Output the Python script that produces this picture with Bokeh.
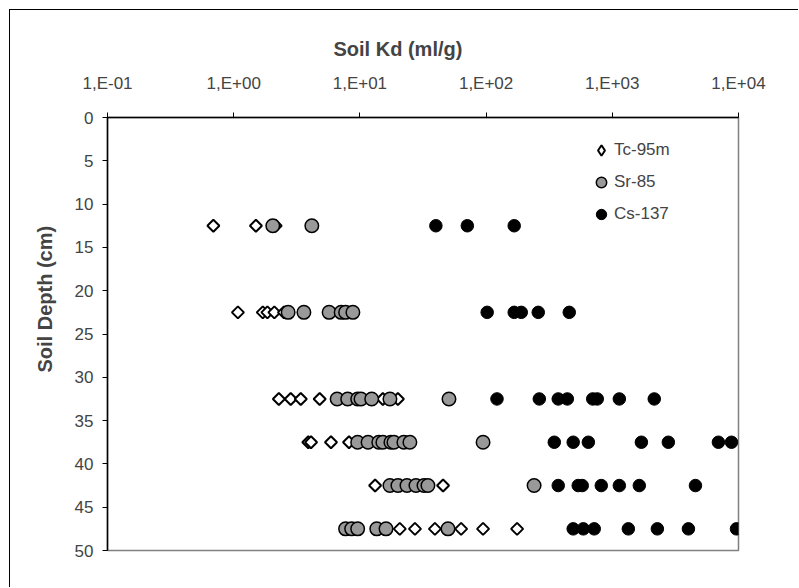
import math
from bokeh.plotting import figure
from bokeh.models import Range1d, FixedTicker, Legend, LegendItem, CustomJSTickFormatter, Title
from bokeh.embed import file_html
from bokeh.resources import INLINE

# ---- data ----
kd_ticks = [0.1, 1, 10, 100, 1000, 10000]
kd_tick_labels = ["1,E-01", "1,E+00", "1,E+01", "1,E+02", "1,E+03", "1,E+04"]
depth_ticks = [0, 5, 10, 15, 20, 25, 30, 35, 40, 45, 50]

tc_kd = [0.69, 1.5, 2.15,
         1.08, 1.7, 1.85, 2.1, 2.5,
         2.28, 2.83, 3.4, 4.8, 15.2, 20.0,
         3.9, 4.1, 5.9, 8.2,
         13.2, 21.0, 45.6,
         20.7, 27.3, 39.3, 63.4, 94.6, 176.0]
tc_depth = [12.5, 12.5, 12.5,
            22.5, 22.5, 22.5, 22.5, 22.5,
            32.5, 32.5, 32.5, 32.5, 32.5, 32.5,
            37.5, 37.5, 37.5, 37.5,
            42.5, 42.5, 42.5,
            47.5, 47.5, 47.5, 47.5, 47.5, 47.5]

sr_kd = [2.04, 4.16,
         2.7, 3.6, 5.7, 7.1, 7.7, 8.8,
         6.6, 8.0, 9.6, 10.2, 12.4, 17.3, 50.8,
         9.6, 11.6, 14.1, 15.2, 17.6, 18.6, 22.3, 24.9, 94.6,
         17.3, 20.0, 23.6, 27.8, 32.2, 34.6, 240.0,
         7.7, 8.6, 9.6, 13.6, 16.1, 49.9]
sr_depth = [12.5, 12.5,
            22.5, 22.5, 22.5, 22.5, 22.5, 22.5,
            32.5, 32.5, 32.5, 32.5, 32.5, 32.5, 32.5,
            37.5, 37.5, 37.5, 37.5, 37.5, 37.5, 37.5, 37.5, 37.5,
            42.5, 42.5, 42.5, 42.5, 42.5, 42.5, 42.5,
            47.5, 47.5, 47.5, 47.5, 47.5, 47.5]

cs_kd = [40.0, 71.0, 167.0,
         102.0, 167.0, 190.0, 259.0, 456.0,
         122.0, 264.0, 373.0, 440.0, 700.0, 760.0, 1137.0, 2150.0,
         347.0, 490.0, 646.0, 1700.0, 2780.0, 6930.0, 8800.0,
         373.0, 537.0, 578.0, 818.0, 1137.0, 1637.0, 4560.0,
         490.0, 589.0, 719.0, 1340.0, 2275.0, 4010.0, 9640.0]
cs_depth = [12.5, 12.5, 12.5,
            22.5, 22.5, 22.5, 22.5, 22.5,
            32.5, 32.5, 32.5, 32.5, 32.5, 32.5, 32.5, 32.5,
            37.5, 37.5, 37.5, 37.5, 37.5, 37.5, 37.5,
            42.5, 42.5, 42.5, 42.5, 42.5, 42.5, 42.5,
            47.5, 47.5, 47.5, 47.5, 47.5, 47.5, 47.5]

FONT = "Liberation Sans"

p = figure(width=789, height=578, title=None,
           x_axis_type="log", x_axis_location="above",
           x_range=Range1d(0.1, 10000), y_range=Range1d(50, 0),
           output_backend="svg", toolbar_location=None,
           min_border_left=97, min_border_top=107,
           min_border_right=61, min_border_bottom=38)
p.styles = {"margin-left": "9px", "margin-top": "9px",
            "border-left": "1px solid black", "border-top": "1px solid black"}

p.background_fill_color = "white"
p.border_fill_color = "white"
p.outline_line_color = "#808080"
p.outline_line_width = 1.5
p.xgrid.visible = False
p.ygrid.visible = False

xa = p.xaxis[0]
xa.ticker = FixedTicker(ticks=kd_ticks)
xa.formatter = CustomJSTickFormatter(args=dict(kd_vals=kd_ticks, kd_labels=kd_tick_labels), code="""
let best = 0, bd = Infinity;
for (let i = 0; i < kd_vals.length; i++) {
  const d = Math.abs(Math.log10(kd_vals[i]) - Math.log10(tick));
  if (d < bd) { bd = d; best = i; }
}
return kd_labels[best];
""")
xa.major_label_text_font = FONT
xa.major_label_text_font_size = "17px"
xa.major_label_standoff = 20
xa.major_tick_out = 5
xa.major_tick_in = 0
xa.minor_tick_line_color = None
xa.axis_line_color = "black"
xa.axis_line_width = 1.5
xa.major_tick_line_color = "black"

ya = p.yaxis[0]
ya.ticker = FixedTicker(ticks=depth_ticks)
ya.major_label_text_font = FONT
ya.major_label_text_font_size = "17px"
ya.major_label_standoff = 9
ya.major_tick_out = 5
ya.major_tick_in = 0
ya.minor_tick_line_color = None
ya.axis_line_color = "black"
ya.axis_line_width = 1.5
ya.major_tick_line_color = "black"

x_title = Title(text="Soil Kd (ml/g)", align="left", offset=226, standoff=21,
                text_font=FONT, text_font_style="bold", text_font_size="20px")
p.add_layout(x_title, "above")
y_title = Title(text="Soil Depth (cm)", align="left", offset=178, standoff=31,
                text_font=FONT, text_font_style="bold", text_font_size="20px")
p.add_layout(y_title, "left")

tc = p.scatter(tc_kd, tc_depth, marker="square", angle=math.pi / 4, size=8.5,
               fill_color="white", line_color="black", line_width=2)
sr = p.scatter(sr_kd, sr_depth, marker="circle", size=13.5,
               fill_color="#999999", line_color="black", line_width=1.5)
cs = p.scatter(cs_kd, cs_depth, marker="circle", size=12.5,
               fill_color="black", line_color="black", line_width=1)
# legend-only glyph for the diamond (the legend does not rotate markers); NaN => never drawn in the plot
tc_key = p.scatter(x=[float("nan")], y=[float("nan")], marker="diamond", size=10,
                   fill_color="white", line_color="black", line_width=2)

legend = Legend(items=[LegendItem(label="Tc-95m", renderers=[tc_key], index=0),
                       LegendItem(label="Sr-85", renderers=[sr]),
                       LegendItem(label="Cs-137", renderers=[cs])],
                location=(481, 323))
legend.glyph_width = 26
legend.glyph_height = 26
legend.label_height = 26
legend.spacing = 6
legend.padding = 0
legend.margin = 0
legend.label_standoff = 0
legend.border_line_color = None
legend.background_fill_alpha = 0
legend.label_text_font = FONT
legend.label_text_font_size = "17px"
p.add_layout(legend)

open("out.html", "w").write(file_html(p, INLINE))
